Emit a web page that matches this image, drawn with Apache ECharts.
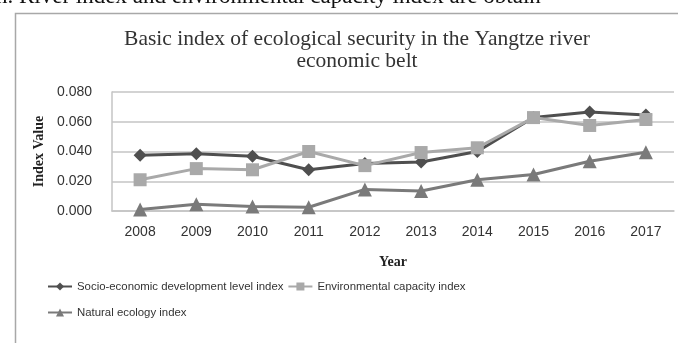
<!DOCTYPE html>
<html>
<head>
<meta charset="utf-8">
<script src="https://cdn.jsdelivr.net/npm/echarts@6/dist/echarts.min.js"></script>
<style>html,body{margin:0;padding:0;background:#fff}#c{width:678px;height:343px}</style>
</head>
<body>
<div id="c"></div>
<script>
const years = ['2008','2009','2010','2011','2012','2013','2014','2015','2016','2017'];
const socioEconomic = [0.0375, 0.0385, 0.0368, 0.0277, 0.0320, 0.0330, 0.0400, 0.0628, 0.0665, 0.0645];
const environmental = [0.0210, 0.0285, 0.0277, 0.0400, 0.0305, 0.0393, 0.0425, 0.0628, 0.0575, 0.0615];
const natural = [0.0010, 0.0045, 0.0030, 0.0025, 0.0145, 0.0135, 0.0210, 0.0245, 0.0335, 0.0395];
const yTicks = { min: 0, max: 0.08, interval: 0.02 };
const names = ['Socio-economic development level index', 'Environmental capacity index', 'Natural ecology index'];

const chart = echarts.init(document.getElementById('c'), null, { renderer: 'canvas' });
const sans = 'Liberation Sans';
const serif = 'Liberation Serif';
const legendText = { fontFamily: sans, fontSize: 11.4, color: '#333' };
chart.setOption({
  animation: false,
  backgroundColor: '#fff',
  title: {
    text: 'Basic index of ecological security in the Yangtze river\neconomic belt',
    left: 352, top: 23, textAlign: 'center',
    textStyle: { fontFamily: serif, fontSize: 21.5, fontWeight: 'normal', color: '#333', lineHeight: 22 }
  },
  grid: { left: 112, right: 4, top: 92, height: 119 },
  legend: [{
    left: 42, top: 276, itemWidth: 24, itemHeight: 10, itemGap: 4,
    data: [names[0], names[1]],
    textStyle: legendText
  }, {
    left: 42, top: 302, itemWidth: 24, itemHeight: 10,
    data: [names[2]],
    textStyle: legendText
  }],
  xAxis: {
    type: 'category', data: years, boundaryGap: true,
    name: 'Year', nameLocation: 'middle', nameGap: 44,
    nameTextStyle: { fontFamily: serif, fontSize: 14, fontWeight: 'bold', color: '#222' },
    axisLine: { lineStyle: { color: '#c4c4c4', width: 1.5 } },
    axisTick: { show: false },
    axisLabel: { fontFamily: sans, fontSize: 14, color: '#333', margin: 14 }
  },
  yAxis: {
    type: 'value', min: yTicks.min, max: yTicks.max, interval: yTicks.interval,
    name: 'Index Value', nameLocation: 'middle', nameGap: 58, nameRotate: 90,
    nameTextStyle: { fontFamily: serif, fontSize: 14, fontWeight: 'bold', color: '#222' },
    axisLine: { show: true, lineStyle: { color: '#c4c4c4', width: 1.5 } },
    axisTick: { show: false },
    splitLine: { lineStyle: { color: '#c4c4c4', width: 1.5 } },
    axisLabel: { fontFamily: sans, fontSize: 14, color: '#333', margin: 20, formatter: v => v.toFixed(3) }
  },
  series: [{
    name: names[0], type: 'line', data: socioEconomic,
    symbol: 'diamond', symbolSize: 13,
    lineStyle: { color: '#4f4f4f', width: 3 }, itemStyle: { color: '#4f4f4f' }, z: 3
  }, {
    name: names[1], type: 'line', data: environmental,
    symbol: 'rect', symbolSize: 13,
    lineStyle: { color: '#a9a9a9', width: 3 }, itemStyle: { color: '#a9a9a9' }, z: 4
  }, {
    name: names[2], type: 'line', data: natural,
    symbol: 'triangle', symbolSize: 14,
    lineStyle: { color: '#7a7a7a', width: 3 }, itemStyle: { color: '#7a7a7a' }, z: 2
  }],
  graphic: [{
    type: 'rect', left: 13, top: 11, shape: { width: 700, height: 400 },
    style: { fill: 'none', stroke: '#a8a8a8', lineWidth: 1.5 }, silent: true, z: -1
  }, {
    type: 'text', left: -4, top: -15,
    style: { text: 'n. River index and environmental capacity index are obtain', fontFamily: serif, fontSize: 23, fill: '#111' }, z: 10
  }]
});
</script>
</body>
</html>
